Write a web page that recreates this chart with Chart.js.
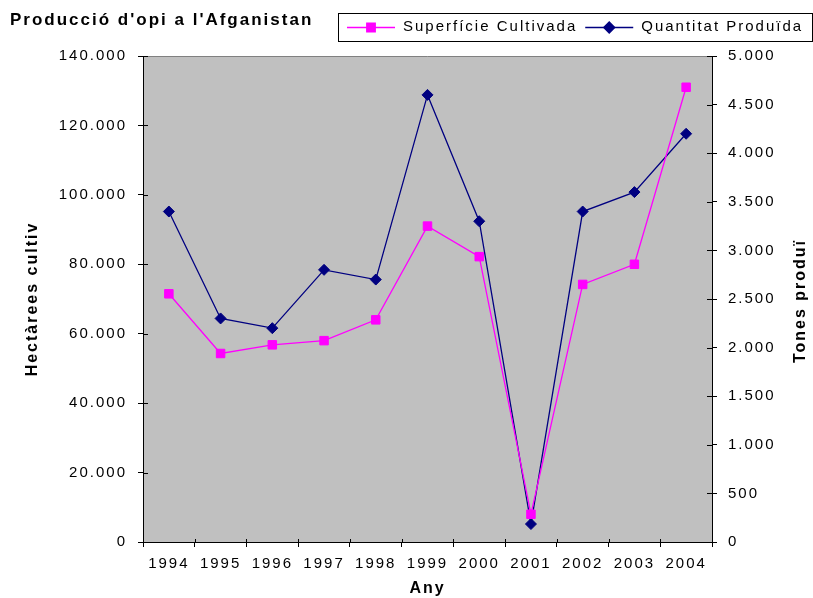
<!DOCTYPE html>
<html>
<head>
<meta charset="utf-8">
<script src="https://cdn.jsdelivr.net/npm/chart.js@4.4.1/dist/chart.umd.min.js"></script>
<style>
  html, body { margin: 0; padding: 0; background: #fff; }
  #wrap { width: 813px; height: 598px; }
</style>
</head>
<body>
<div id="wrap"><canvas id="opi" width="813" height="598"></canvas></div>
<script>
var titol = "Producció d'opi a l'Afganistan";
var titolDreta = "Tones produï";
var anys = ["1994", "1995", "1996", "1997", "1998", "1999", "2000", "2001", "2002", "2003", "2004"];
var superficie = [71500, 54300, 56800, 58000, 64000, 91000, 82200, 8000, 74200, 80000, 131000];
var quantitat = [3400, 2300, 2200, 2800, 2700, 4600, 3300, 185, 3400, 3600, 4200];

var FONT = "'Liberation Sans', Arial, sans-serif";

// 140000 -> "140.000"
function punts(v) {
  return String(v).replace(/\B(?=(\d{3})+(?!\d))/g, ".");
}

var marc = {
  id: "marc",
  beforeDraw: function (chart) {
    var ctx = chart.ctx, a = chart.chartArea;
    ctx.letterSpacing = "2px";
    ctx.save();
    ctx.fillStyle = "#ffffff";
    ctx.fillRect(0, 0, chart.width, chart.height);
    ctx.fillStyle = "#c0c0c0";
    ctx.fillRect(a.left, a.top, a.right - a.left, a.bottom - a.top);
    ctx.strokeStyle = "#808080";
    ctx.lineWidth = 1;
    ctx.beginPath();
    ctx.moveTo(a.left, a.top + 0.5);
    ctx.lineTo(a.right, a.top + 0.5);
    ctx.stroke();
    ctx.restore();
  },
  afterDraw: function (chart) {
    var ctx = chart.ctx, a = chart.chartArea;
    var y = chart.scales.y, y1 = chart.scales.y1, x = chart.scales.x;
    ctx.save();
    // inner half of the tick marks
    ctx.strokeStyle = "#000";
    ctx.lineWidth = 1;
    ctx.beginPath();
    y.ticks.forEach(function (t) {
      var p = Math.round(y.getPixelForValue(t.value)) + 0.5;
      ctx.moveTo(a.left, p);
      ctx.lineTo(a.left + 5, p);
    });
    y1.ticks.forEach(function (t) {
      var p = Math.round(y1.getPixelForValue(t.value)) + 0.5;
      ctx.moveTo(a.right - 5, p);
      ctx.lineTo(a.right, p);
    });
    var n = anys.length;
    for (var i = 0; i <= n; i++) {
      var px = Math.round(x.left + i * (x.width / n)) + 0.5;
      ctx.moveTo(px, a.bottom - 3);
      ctx.lineTo(px, a.bottom);
    }
    ctx.stroke();

    // title
    ctx.fillStyle = "#000";
    ctx.font = "bold 17px " + FONT;
    ctx.textAlign = "left";
    ctx.textBaseline = "middle";
    ctx.fillText(titol, 10, 20);

    // right axis title, read bottom to top like the left one
    ctx.save();
    ctx.font = "bold 16px " + FONT;
    ctx.textAlign = "center";
    ctx.translate(801, (a.top + a.bottom) / 2 + 2);
    ctx.rotate(-Math.PI / 2);
    ctx.fillText(titolDreta, 0, 0);
    ctx.restore();

    // legend box
    ctx.strokeStyle = "#000";
    ctx.strokeRect(338.5, 13.5, 474, 28);
    ctx.font = "15px " + FONT;
    var cx = 347, cy = 27;
    chart.data.datasets.forEach(function (ds) {
      ctx.strokeStyle = ds.borderColor;
      ctx.lineWidth = 1.3;
      ctx.beginPath();
      ctx.moveTo(cx, cy + 0.5);
      ctx.lineTo(cx + 48, cy + 0.5);
      ctx.stroke();
      ctx.fillStyle = ds.backgroundColor;
      Chart.helpers.drawPoint(ctx, {
        pointStyle: ds.pointStyle,
        radius: ds.pointRadius,
        rotation: 0,
        borderWidth: 1
      }, cx + 24, cy + 0.5);
      ctx.fillStyle = "#000";
      ctx.fillText(ds.label, cx + 56, cy);
      cx = cx + 56 + ctx.measureText(ds.label).width + 8;
    });
    ctx.restore();
  }
};

var config = {
  type: "line",
  data: {
    labels: anys,
    datasets: [
      {
        label: "Superfície Cultivada",
        data: superficie,
        yAxisID: "y",
        borderColor: "#ff00ff",
        backgroundColor: "#ff00ff",
        borderWidth: 1.3,
        pointStyle: "rect",
        pointRadius: 6,
        pointBorderWidth: 1,
        tension: 0
      },
      {
        label: "Quantitat Produïda",
        data: quantitat,
        yAxisID: "y1",
        borderColor: "#000080",
        backgroundColor: "#000080",
        borderWidth: 1.3,
        pointStyle: "rectRot",
        pointRadius: 5.5,
        pointBorderWidth: 1,
        tension: 0
      }
    ]
  },
  options: {
    responsive: false,
    animation: false,
    devicePixelRatio: 1,
    layout: { padding: { top: 56, left: 0, right: 0, bottom: 0 } },
    plugins: {
      legend: { display: false },
      title: { display: false },
      tooltip: { enabled: false }
    },
    scales: {
      x: {
        offset: true,
        grid: { offset: true, drawOnChartArea: false, tickLength: 5, color: "#000" },
        border: { color: "#000", width: 1 },
        ticks: {
          color: "#000",
          font: { family: FONT, size: 15 },
          maxRotation: 0,
          autoSkip: false,
          padding: 8
        },
        title: {
          display: true,
          text: "Any",
          color: "#000",
          font: { family: FONT, size: 16, weight: "bold" },
          padding: 0
        },
        afterFit: function (s) { s.height = 56; }
      },
      y: {
        position: "left",
        min: 0,
        max: 140000,
        grid: { drawOnChartArea: false, tickLength: 5, color: "#000" },
        border: { color: "#000", width: 1 },
        ticks: {
          stepSize: 20000,
          color: "#000",
          font: { family: FONT, size: 15 },
          padding: 11,
          callback: function (v) { return punts(v); }
        },
        title: {
          display: true,
          text: "Hectàrees cultiv",
          color: "#000",
          font: { family: FONT, size: 16, weight: "bold" },
          padding: 23
        },
        afterFit: function (s) { s.width = 143; }
      },
      y1: {
        position: "right",
        min: 0,
        max: 5000,
        grid: { drawOnChartArea: false, tickLength: 5, color: "#000" },
        border: { color: "#000", width: 1 },
        ticks: {
          stepSize: 500,
          color: "#000",
          font: { family: FONT, size: 15 },
          padding: 11,
          callback: function (v) { return punts(v); }
        },
        title: { display: false },
        afterFit: function (s) { s.width = 101; }
      }
    }
  },
  plugins: [marc]
};

var opiChart = new Chart(document.getElementById("opi"), config);
</script>
</body>
</html>
